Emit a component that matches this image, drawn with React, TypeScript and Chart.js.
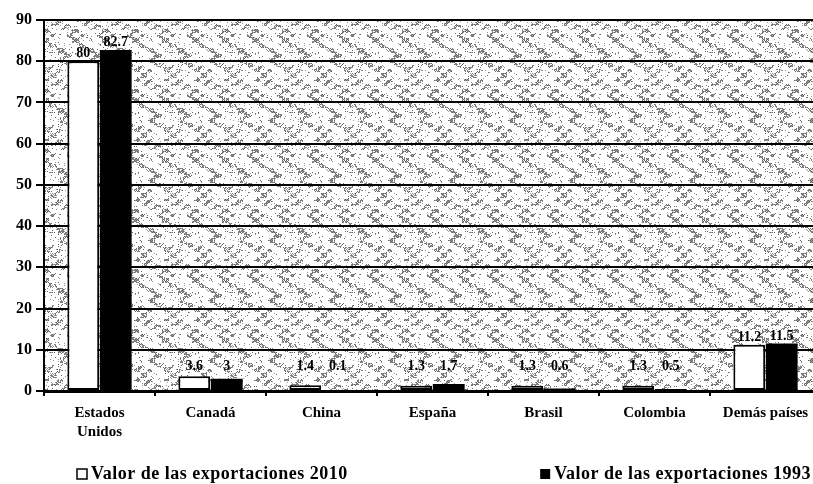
import React, { useEffect, useRef } from "react";
import { Chart, registerables } from "chart.js";

Chart.register(...registerables);

const categories: (string | string[])[] = [
  ["Estados", "Unidos"],
  "Canadá",
  "China",
  "España",
  "Brasil",
  "Colombia",
  "Demás países",
];
const exports2010 = [80, 3.6, 1.4, 1.3, 1.3, 1.3, 11.2];
const exports1993 = [82.7, 3, 0.1, 1.7, 0.6, 0.5, 11.5];
const seriesLabels = ["Valor de las exportaciones 2010", "Valor de las exportaciones 1993"];
const yTicks = { min: 0, max: 90, step: 10 };

const FONT = "'Liberation Serif', 'DejaVu Serif', serif";

function makePattern(): CanvasPattern | string {
  const c = document.createElement("canvas");
  const size = 60;
  c.width = size;
  c.height = size;
  const g = c.getContext("2d");
  if (!g) return "#dcdcdc";
  g.fillStyle = "#ffffff";
  g.fillRect(0, 0, size, size);
  const img = g.getImageData(0, 0, size, size);
  for (let y = 0; y < size; y++) {
    for (let x = 0; x < size; x++) {
      // deterministic hash texture
      let h = (x * 374761393 + y * 668265263) ^ 0x5bd1e995;
      h = Math.imul(h ^ (h >>> 13), 1274126177);
      h = (h ^ (h >>> 16)) >>> 0;
      const blob =
        Math.sin(x * 0.42 + 1.3) * Math.cos(y * 0.63) +
        0.7 * Math.sin((x - y) * 0.21 + Math.cos(y * 0.3));
      const p = (h % 1000) / 1000;
      const dark = blob > 0.5 ? p < 0.65 : p < 0.06;
      const v = dark ? ((x + y) % 2 === 0 ? 105 : 150) : 255;
      const i = (y * size + x) * 4;
      img.data[i] = v;
      img.data[i + 1] = v;
      img.data[i + 2] = v;
      img.data[i + 3] = 255;
    }
  }
  g.putImageData(img, 0, 0);
  return g.createPattern(c, "repeat") || "#dcdcdc";
}

export default function App() {
  const ref = useRef<HTMLCanvasElement | null>(null);

  useEffect(() => {
    document.body.style.margin = "0";
    const canvas = ref.current;
    if (!canvas) return;
    const pattern = makePattern();

    const bgPlugin = {
      id: "bgPattern",
      beforeDraw(chart: any) {
        const { ctx, chartArea } = chart;
        ctx.save();
        ctx.fillStyle = pattern;
        ctx.fillRect(chartArea.left, chartArea.top, chartArea.right - chartArea.left, chartArea.bottom - chartArea.top);
        ctx.restore();
      },
    };

    const labelPlugin = {
      id: "valueLabels",
      afterDatasetsDraw(chart: any) {
        const { ctx } = chart;
        ctx.save();
        ctx.font = `bold 14px ${FONT}`;
        ctx.fillStyle = "#000";
        ctx.textAlign = "center";
        ctx.textBaseline = "alphabetic";
        chart.data.datasets.forEach((ds: any, di: number) => {
          const meta = chart.getDatasetMeta(di);
          meta.data.forEach((bar: any, i: number) => {
            const v = ds.data[i];
            const y = Math.min(bar.y - 4, 370);
            ctx.fillText(String(v), bar.x, y);
          });
        });
        ctx.restore();
      },
    };

    const legendPlugin = {
      id: "customLegend",
      afterDraw(chart: any) {
        const { ctx } = chart;
        ctx.save();
        ctx.font = `bold 18px ${FONT}`;
        try {
          (ctx as any).letterSpacing = "0.5px";
        } catch (e) {}
        ctx.textBaseline = "alphabetic";
        ctx.textAlign = "left";
        const y = 479;
        // item 1
        ctx.fillStyle = "#fff";
        ctx.strokeStyle = "#000";
        ctx.lineWidth = 1.5;
        ctx.fillRect(77, 469, 10, 10);
        ctx.strokeRect(77, 469, 10, 10);
        ctx.fillStyle = "#000";
        ctx.fillText(seriesLabels[0], 91, y);
        // item 2
        const w = ctx.measureText(seriesLabels[1]).width;
        const tx = 811 - w;
        ctx.fillRect(tx - 14, 469, 10, 10);
        ctx.fillText(seriesLabels[1], tx, y);
        ctx.restore();
      },
    };

    const chart = new Chart(canvas, {
      type: "bar",
      data: {
        labels: categories,
        datasets: [
          {
            label: seriesLabels[0],
            data: exports2010,
            backgroundColor: "#ffffff",
            borderColor: "#000000",
            borderWidth: 2,
            borderSkipped: false,
            barPercentage: 0.98,
            categoryPercentage: 0.585,
          },
          {
            label: seriesLabels[1],
            data: exports1993,
            backgroundColor: "#000000",
            borderColor: "#000000",
            borderWidth: 0,
            barPercentage: 0.98,
            categoryPercentage: 0.585,
          },
        ],
      },
      options: {
        animation: false,
        responsive: false,
        maintainAspectRatio: false,
        layout: { padding: { top: 20, right: 0, left: 0, bottom: 36 } },
        plugins: {
          legend: { display: false },
          tooltip: { enabled: false },
        },
        scales: {
          x: {
            offset: true,
            grid: {
              offset: true,
              drawOnChartArea: false,
              drawTicks: true,
              tickLength: 5,
              color: "#000",
              lineWidth: 2,
            },
            border: { color: "#000", width: 3 },
            ticks: {
              color: "#000",
              font: { family: FONT, size: 15, weight: "bold", lineHeight: 1.3 },
              padding: 7,
              maxRotation: 0,
              autoSkip: false,
            },
            afterFit(scale: any) {
              scale.height = 57;
            },
          },
          y: {
            min: yTicks.min,
            max: yTicks.max,
            ticks: {
              stepSize: yTicks.step,
              color: "#000",
              font: { family: FONT, size: 16, weight: "bold" },
              padding: 4,
            },
            grid: {
              color: "#000",
              lineWidth: 2,
              tickLength: 8,
            },
            border: { color: "#000", width: 2 },
            afterFit(scale: any) {
              scale.width = 44;
            },
          },
        },
      },
      plugins: [bgPlugin, labelPlugin, legendPlugin],
    });

    return () => chart.destroy();
  }, []);

  return (
    <div style={{ width: 813, height: 484, overflow: "hidden" }}>
      <canvas ref={ref} width={821} height={484} style={{ display: "block" }} />
    </div>
  );
}
